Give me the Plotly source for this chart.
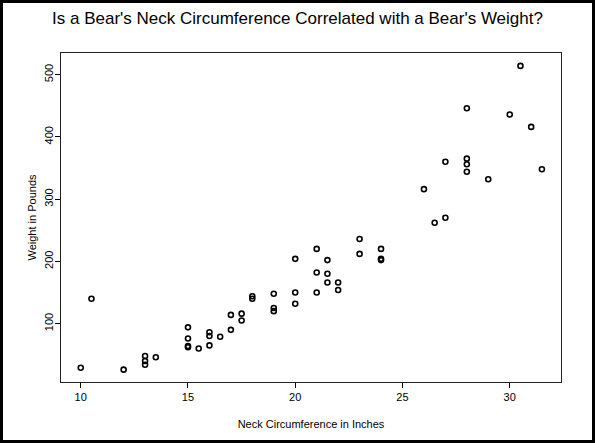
import plotly.graph_objects as go

neck = [16, 28, 31, 31.5, 22, 21, 26.5, 27, 20, 18, 29, 13, 10.5, 21.5, 17.5, 21.5, 24, 12,
        19, 30, 19, 20, 17, 13, 24, 13.5, 22, 17.5, 21, 20, 16, 28, 26, 15, 16, 21, 27, 24,
        21.5, 28, 16.5, 19, 28, 15, 23, 23, 15.5, 15, 17, 15, 13, 10, 30.5, 18]
weight = [80, 344, 416, 348, 166, 220, 262, 360, 204, 144, 332, 34, 140, 180, 105, 166, 204, 26,
          120, 436, 125, 132, 90, 40, 220, 46, 154, 116, 182, 150, 65, 356, 316, 94, 86, 150, 270, 202,
          202, 365, 79, 148, 446, 62, 236, 212, 60, 64, 114, 76, 48, 29, 514, 140]

x_ticks = [10, 15, 20, 25, 30]
y_ticks = [100, 200, 300, 400, 500]

FONT = "Liberation Sans, Arial, sans-serif"

fig = go.Figure()
fig.add_trace(go.Scatter(
    x=neck, y=weight, mode="markers",
    marker=dict(symbol="circle-open", size=5, color="black", line=dict(width=1.6, color="black")),
    showlegend=False, hoverinfo="x+y"))

axis_common = dict(showline=True, linecolor="#222", linewidth=1.3, mirror=True,
                   ticks="outside", ticklen=5, tickwidth=1.3, tickcolor="black",
                   showgrid=False, zeroline=False,
                   tickfont=dict(family=FONT, size=11, color="black"))

fig.update_xaxes(range=[9.08, 32.39], tickvals=x_ticks, ticktext=[str(v) for v in x_ticks],
                 title=dict(text="Neck Circumference in Inches", font=dict(family=FONT, size=11, color="black"),
                            standoff=17),
                 **axis_common)
fig.update_yaxes(range=[6.2, 534.7], tickvals=y_ticks, ticktext=[str(v) for v in y_ticks],
                 tickangle=-90, ticklabelstandoff=-3,
                 title=dict(text="Weight in Pounds", font=dict(family=FONT, size=11, color="black"),
                            standoff=4),
                 **axis_common)

fig.update_layout(
    width=595, height=443,
    margin=dict(l=61, r=34, t=53, b=61),
    paper_bgcolor="white", plot_bgcolor="white",
    title=dict(text="Is a Bear's Neck Circumference Correlated with a Bear's Weight?",
               x=0.5, xref="container", xanchor="center", y=0.96, yanchor="middle",
               font=dict(family=FONT, size=17, color="black")),
    font=dict(family=FONT, color="black"),
    shapes=[dict(type="rect", xref="paper", yref="paper",
                 x0=-61/500 + 1.5/500, x1=(595-61)/500 - 1.5/500,
                 y0=-61/329 + 1.5/329, y1=(443-61)/329 - 1.5/329,
                 line=dict(color="black", width=3), fillcolor="rgba(0,0,0,0)", layer="above")],
)

fig.write_html("out.html")
